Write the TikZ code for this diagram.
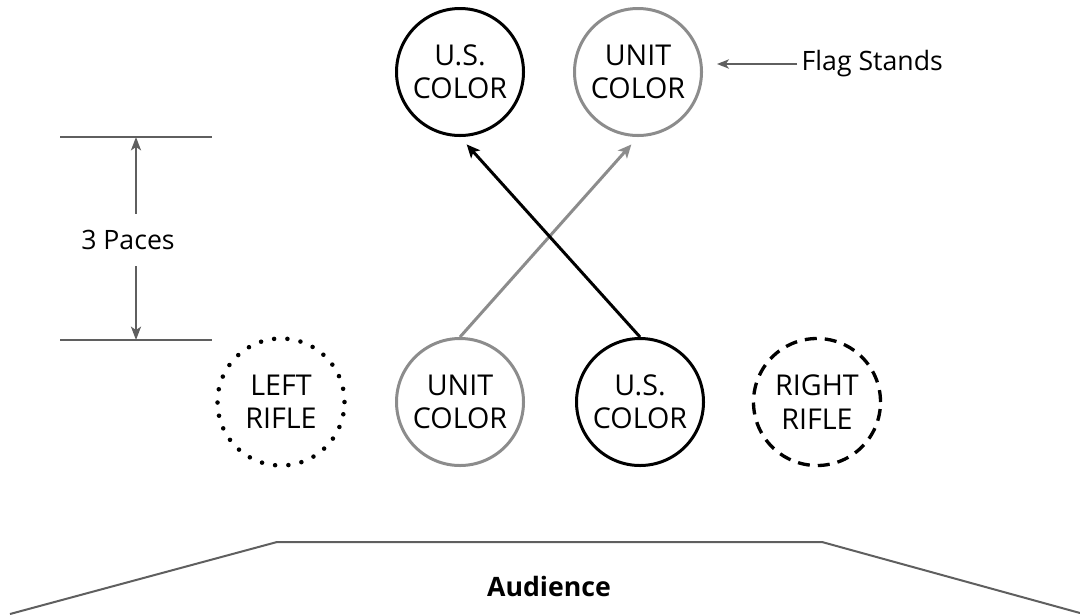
\documentclass[tikz,border=0pt]{standalone}
\usepackage{fontspec}
\setmainfont{Open Sans}
\usepackage{tikz}
\usetikzlibrary{positioning,arrows.meta,calc}
\definecolor{standGray}{HTML}{8C8C8C}
\definecolor{lineGray}{HTML}{5F5F5F}

\begin{document}
\begin{tikzpicture}[
    x=0.75pt, y=-0.75pt,
    flag/.style={draw=#1, circle, line width=2.25pt, minimum size=95.25pt, inner sep=0pt,
      align=center, font=\fontsize{21.5}{25}\selectfont},
    label/.style={font=\fontsize{20}{24}\selectfont},
    march/.style={-{Stealth[length=10pt, width=9pt, inset=2.5pt]}, line width=2.25pt, shorten >=7.5pt},
    dim/.style={-{Stealth[length=10pt, width=7.5pt, inset=2.5pt]}, draw=lineGray, line width=1.5pt},
  ]
  \useasboundingbox (0,0) rectangle (1080,615);

  % Flag stands
  \node[flag=black] (usTop) at (460,72) {U.S.\\COLOR};
  \node[flag=standGray] (unitTop) at (638,72) {UNIT\\COLOR};

  % Colour guard
  \node[flag=black, dash pattern=on 0pt off 10pt, line cap=round, line width=3.4pt] (left) at (281,402) {LEFT\\RIFLE};
  \node[flag=standGray] (unitBot) at (460,402) {UNIT\\COLOR};
  \node[flag=black] (usBot) at (640,402) {U.S.\\COLOR};
  \node[flag=black, dash pattern=on 9pt off 6pt, line width=2.5pt] (right) at (817,402) {RIGHT\\RIFLE};

  % Arrows
  \draw[march, standGray] (unitBot.north) -- (unitTop.south);
  \draw[march, black] (usBot.north) -- (usTop.south);

  % Labels
  \node[label, anchor=west] (stands) at (797,64) {Flag Stands};
  \draw[-{Stealth[length=9pt, width=7pt, inset=2.5pt]}, draw=lineGray, line width=1.1pt, shorten >=10.5pt]
    (stands.west) -- (stands.west -| unitTop.east);

  % 3 paces
  \coordinate (paceTop) at (136,137);
  \coordinate (paceBot) at (136,340);
  \draw[lineGray, line width=1.5pt] (60,137) -- (212,137);
  \draw[lineGray, line width=1.5pt] (60,340) -- (212,340);
  \node[label, inner ysep=12pt] (paces) at (128,240) {3 Paces};
  \draw[dim] (paces.north -| paceTop) -- (paceTop);
  \draw[dim] (paces.south -| paceBot) -- (paceBot);

  % Audience
  \draw[lineGray, line width=1.5pt] (10,614) -- (277,542) -- (822,542) -- (1080,613);
  \node[label, font=\fontsize{20}{24}\selectfont\bfseries] (audience) at (549,586) {Audience};
\end{tikzpicture}
\end{document}
